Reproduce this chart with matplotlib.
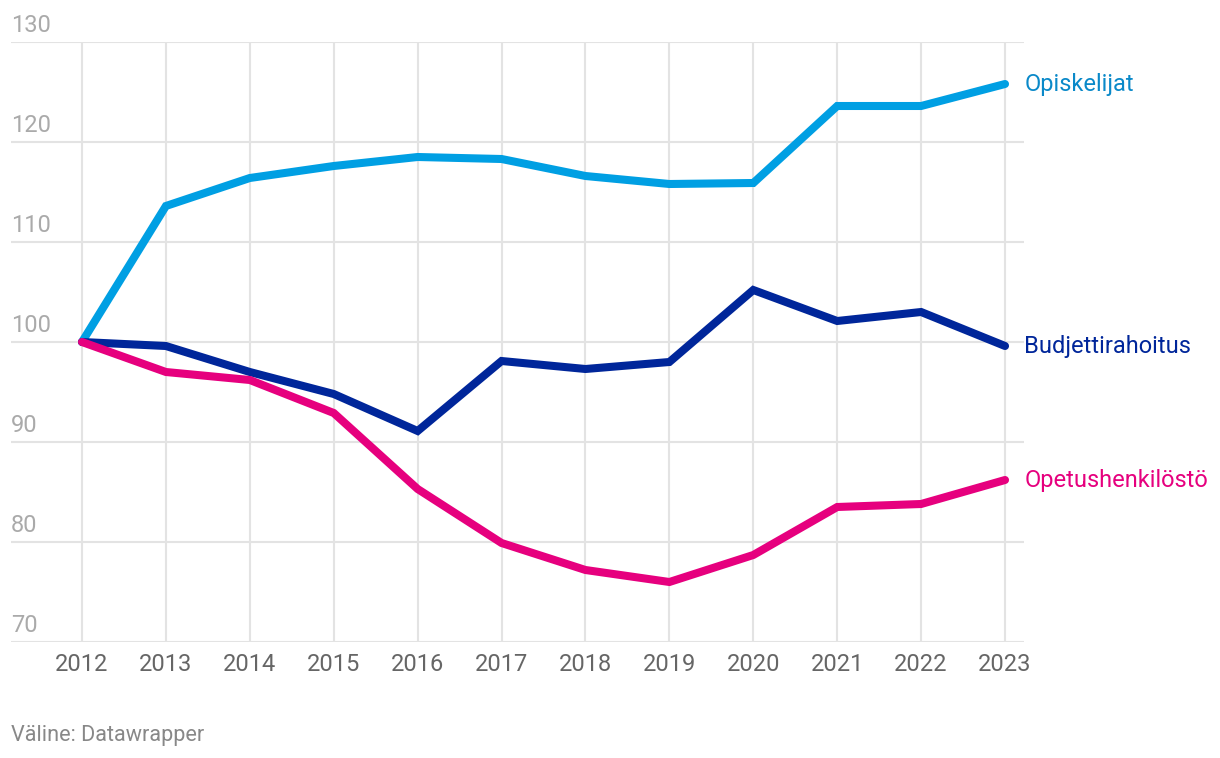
import matplotlib.pyplot as plt

plt.rcParams['font.family'] = ['Roboto', 'DejaVu Sans']

# data
years = list(range(2012, 2024))
opiskelijat = [100, 113.6, 116.4, 117.6, 118.5, 118.3, 116.6, 115.8, 115.9, 123.6, 123.6, 125.8]
budjetti = [100, 99.6, 97.0, 94.8, 91.1, 98.1, 97.3, 98.0, 105.2, 102.1, 103.0, 99.6]
opetus = [100, 97.0, 96.2, 92.9, 85.3, 79.9, 77.2, 76.0, 78.7, 83.5, 83.8, 86.2]
y_ticks = [70, 80, 90, 100, 110, 120, 130]

series = [
    ("Opiskelijat", opiskelijat, "#009fe3", "#0a89c9"),
    ("Budjettirahoitus", budjetti, "#00269a", "#00269a"),
    ("Opetushenkilöstö", opetus, "#e6007e", "#e6007e"),
]

fig = plt.figure(figsize=(12.2, 7.58), dpi=100)
ax = fig.add_axes([11 / 1220, 1 - 642 / 758, (1024 - 11) / 1220, 600 / 758])

ax.set_xlim(2011.154, 2023.226)
ax.set_ylim(70, 130)

# grid
for y in y_ticks:
    ax.axhline(y, color="#e3e3e3", lw=1.5, zorder=0)
    ax.text(2011.154, y + 0.55, str(y), color="#aaaaaa", fontsize=17,
            ha="left", va="bottom")
for yr in years:
    ax.axvline(yr, color="#e3e3e3", lw=1.5, zorder=0)

for name, vals, c, tc in series:
    ax.plot(years, vals, color=c, lw=5.8, solid_capstyle="round",
            solid_joinstyle="miter", zorder=3)
    ax.annotate(name, (years[-1], vals[-1]), xytext=(14, 0),
                textcoords="offset points", color=tc, fontsize=17,
                ha="left", va="center", annotation_clip=False)

ax.set_xticks(years)
ax.set_xticklabels([str(y) for y in years], fontsize=17, color="#666666")
ax.tick_params(axis="x", length=0, pad=8)
ax.set_yticks([])
for s in ax.spines.values():
    s.set_visible(False)

fig.text(11 / 1220, 1 - 735 / 758, "Väline: Datawrapper", fontsize=15.6,
         color="#888888", ha="left", va="center")

fig.savefig("out.png", dpi=100)
